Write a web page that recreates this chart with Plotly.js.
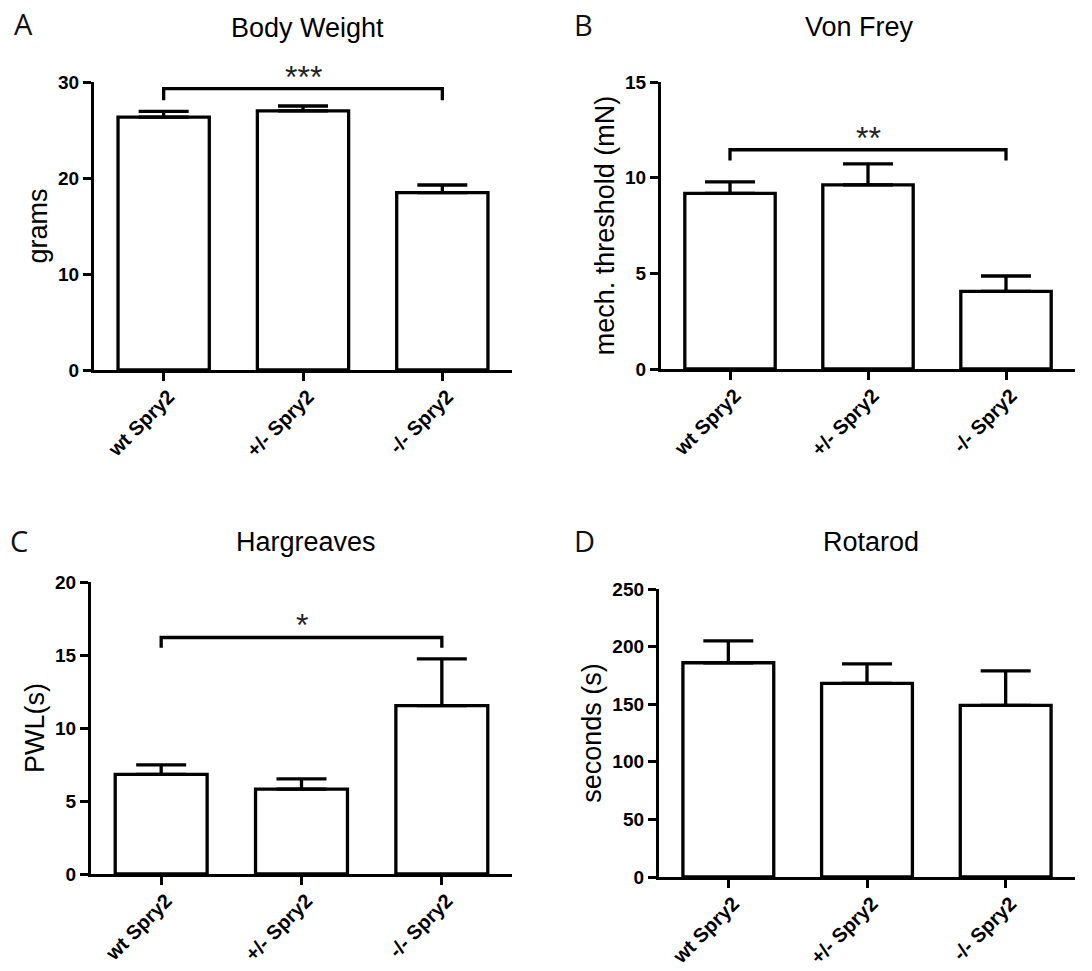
<!DOCTYPE html>
<html>
<head>
<meta charset="utf-8">
<script src="https://cdn.plot.ly/plotly-3.0.1.min.js"></script>
<style>
  html, body { margin: 0; padding: 0; background: #ffffff; }
  #chart { width: 1092px; height: 971px; }
</style>
</head>
<body>
<div id="chart"></div>
<script>
// ---------------- data ----------------
const categories = ['wt Spry2', '+/- Spry2', '-/- Spry2'];

const bodyWeightMean = [26.35, 27.0, 18.47];
const bodyWeightSem  = [0.6, 0.5, 0.8];

const vonFreyMean = [9.18, 9.62, 4.06];
const vonFreySem  = [0.6, 1.1, 0.8];

const hargreavesMean = [6.83, 5.82, 11.53];
const hargreavesSem  = [0.65, 0.7, 3.2];

const rotarodMean = [186, 168, 149];
const rotarodSem  = [19, 17, 30];

const panelTitles  = ['Body Weight', 'Von Frey', 'Hargreaves', 'Rotarod'];
const panelLetters = ['A', 'B', 'C', 'D'];
const yTitles      = ['grams', 'mech. threshold (mN)', 'PWL(s)', 'seconds (s)'];
const yMax         = [30, 15, 20, 250];
const yStep        = [10, 5, 5, 50];

// significance brackets (wt vs -/-): label, bracket top, bracket leg bottom
const sigLabels        = ['***', '**', '*', ''];
const sigBracketTop    = [29.3, 11.46, 16.2, null];
const sigBracketBottom = [28.1, 10.9, 15.5, null];

// ---------------- build ----------------
const means = [bodyWeightMean, vonFreyMean, hargreavesMean, rotarodMean];
const sems  = [bodyWeightSem, vonFreySem, hargreavesSem, rotarodSem];

const W = 1092, H = 971;
// pixel boxes of each plot area [left, right, top, bottom]
const boxes = [
  [94, 512, 82, 370],
  [661, 1075, 82, 369],
  [91, 512, 582, 874],
  [659, 1075, 589, 877]
];
const letterPos = [[12, 23], [572, 24], [8, 540], [572, 540]];
const titlePos  = [[307, 28], [859, 27], [306, 542], [871, 542]];

const yTickFont = { family: 'Liberation Sans, Arial, sans-serif', size: 19, color: '#000', weight: 'bold' };
const xTickFont = { family: 'Liberation Sans, Arial, sans-serif', size: 20, color: '#000', weight: 'bold' };
const textFont  = { family: 'Liberation Sans, Arial, sans-serif', size: 27, color: '#000' };

const traces = [];
const layout = {
  width: W, height: H,
  margin: { l: 0, r: 0, t: 0, b: 0 },
  paper_bgcolor: '#ffffff',
  plot_bgcolor: '#ffffff',
  showlegend: false,
  bargap: 0.345,
  annotations: []
};

for (let i = 0; i < 4; i++) {
  const sfx = i === 0 ? '' : String(i + 1);
  const xa = 'x' + sfx, ya = 'y' + sfx;
  const b = boxes[i];

  traces.push({
    type: 'bar',
    x: categories,
    y: means[i],
    xaxis: xa, yaxis: ya,
    marker: { color: '#ffffff', line: { color: '#000000', width: 3.3 } },
    error_y: {
      type: 'data', symmetric: false,
      array: sems[i],
      arrayminus: categories.map(() => 0),
      color: '#000000', thickness: 3.3, width: 25
    },
    hoverinfo: 'x+y'
  });

  if (sigLabels[i]) {
    traces.push({
      type: 'scatter', mode: 'lines',
      x: [categories[0], categories[0], categories[2], categories[2]],
      y: [sigBracketBottom[i], sigBracketTop[i], sigBracketTop[i], sigBracketBottom[i]],
      xaxis: xa, yaxis: ya,
      line: { color: '#000000', width: 3.3 },
      cliponaxis: false,
      hoverinfo: 'skip'
    });
    layout.annotations.push({
      xref: xa, yref: ya,
      x: categories[1], y: sigBracketTop[i],
      text: sigLabels[i], showarrow: false,
      xanchor: 'center', yanchor: 'bottom', yshift: -8,
      font: { family: 'Liberation Sans, Arial, sans-serif', size: 32, color: '#222' }
    });
  }

  layout['xaxis' + sfx] = {
    domain: [b[0] / W, b[1] / W],
    anchor: ya,
    type: 'category',
    range: [-0.5, 2.5],
    showline: true, linewidth: 3.3, linecolor: '#000',
    ticks: 'outside', ticklen: 8, tickwidth: 3.3, tickcolor: '#000',
    tickangle: -45,
    ticklabelshift: 5,
    ticklabelstandoff: -4,
    tickfont: xTickFont,
    showgrid: false, zeroline: false, automargin: false, fixedrange: true
  };
  layout['yaxis' + sfx] = {
    domain: [1 - b[3] / H, 1 - b[2] / H],
    anchor: xa,
    range: [0, yMax[i]],
    tick0: 0, dtick: yStep[i],
    showline: true, linewidth: 3.3, linecolor: '#000',
    ticks: 'outside', ticklen: 8, tickwidth: 3.3, tickcolor: '#000',
    tickfont: yTickFont,
    showgrid: false, zeroline: false, automargin: false, fixedrange: true,
    title: { text: yTitles[i], font: textFont, standoff: 3 }
  };

  layout.annotations.push({
    xref: 'paper', yref: 'paper',
    x: letterPos[i][0] / W, y: 1 - letterPos[i][1] / H,
    xanchor: 'left', yanchor: 'middle',
    text: panelLetters[i], showarrow: false,
    font: { family: 'Open Sans, Lato, sans-serif', size: 29, color: '#111' }
  });
  layout.annotations.push({
    xref: 'paper', yref: 'paper',
    x: titlePos[i][0] / W, y: 1 - titlePos[i][1] / H,
    xanchor: 'center', yanchor: 'middle',
    text: panelTitles[i], showarrow: false,
    font: textFont
  });
}

Plotly.newPlot('chart', traces, layout, { displayModeBar: false, staticPlot: false });
</script>
</body>
</html>
